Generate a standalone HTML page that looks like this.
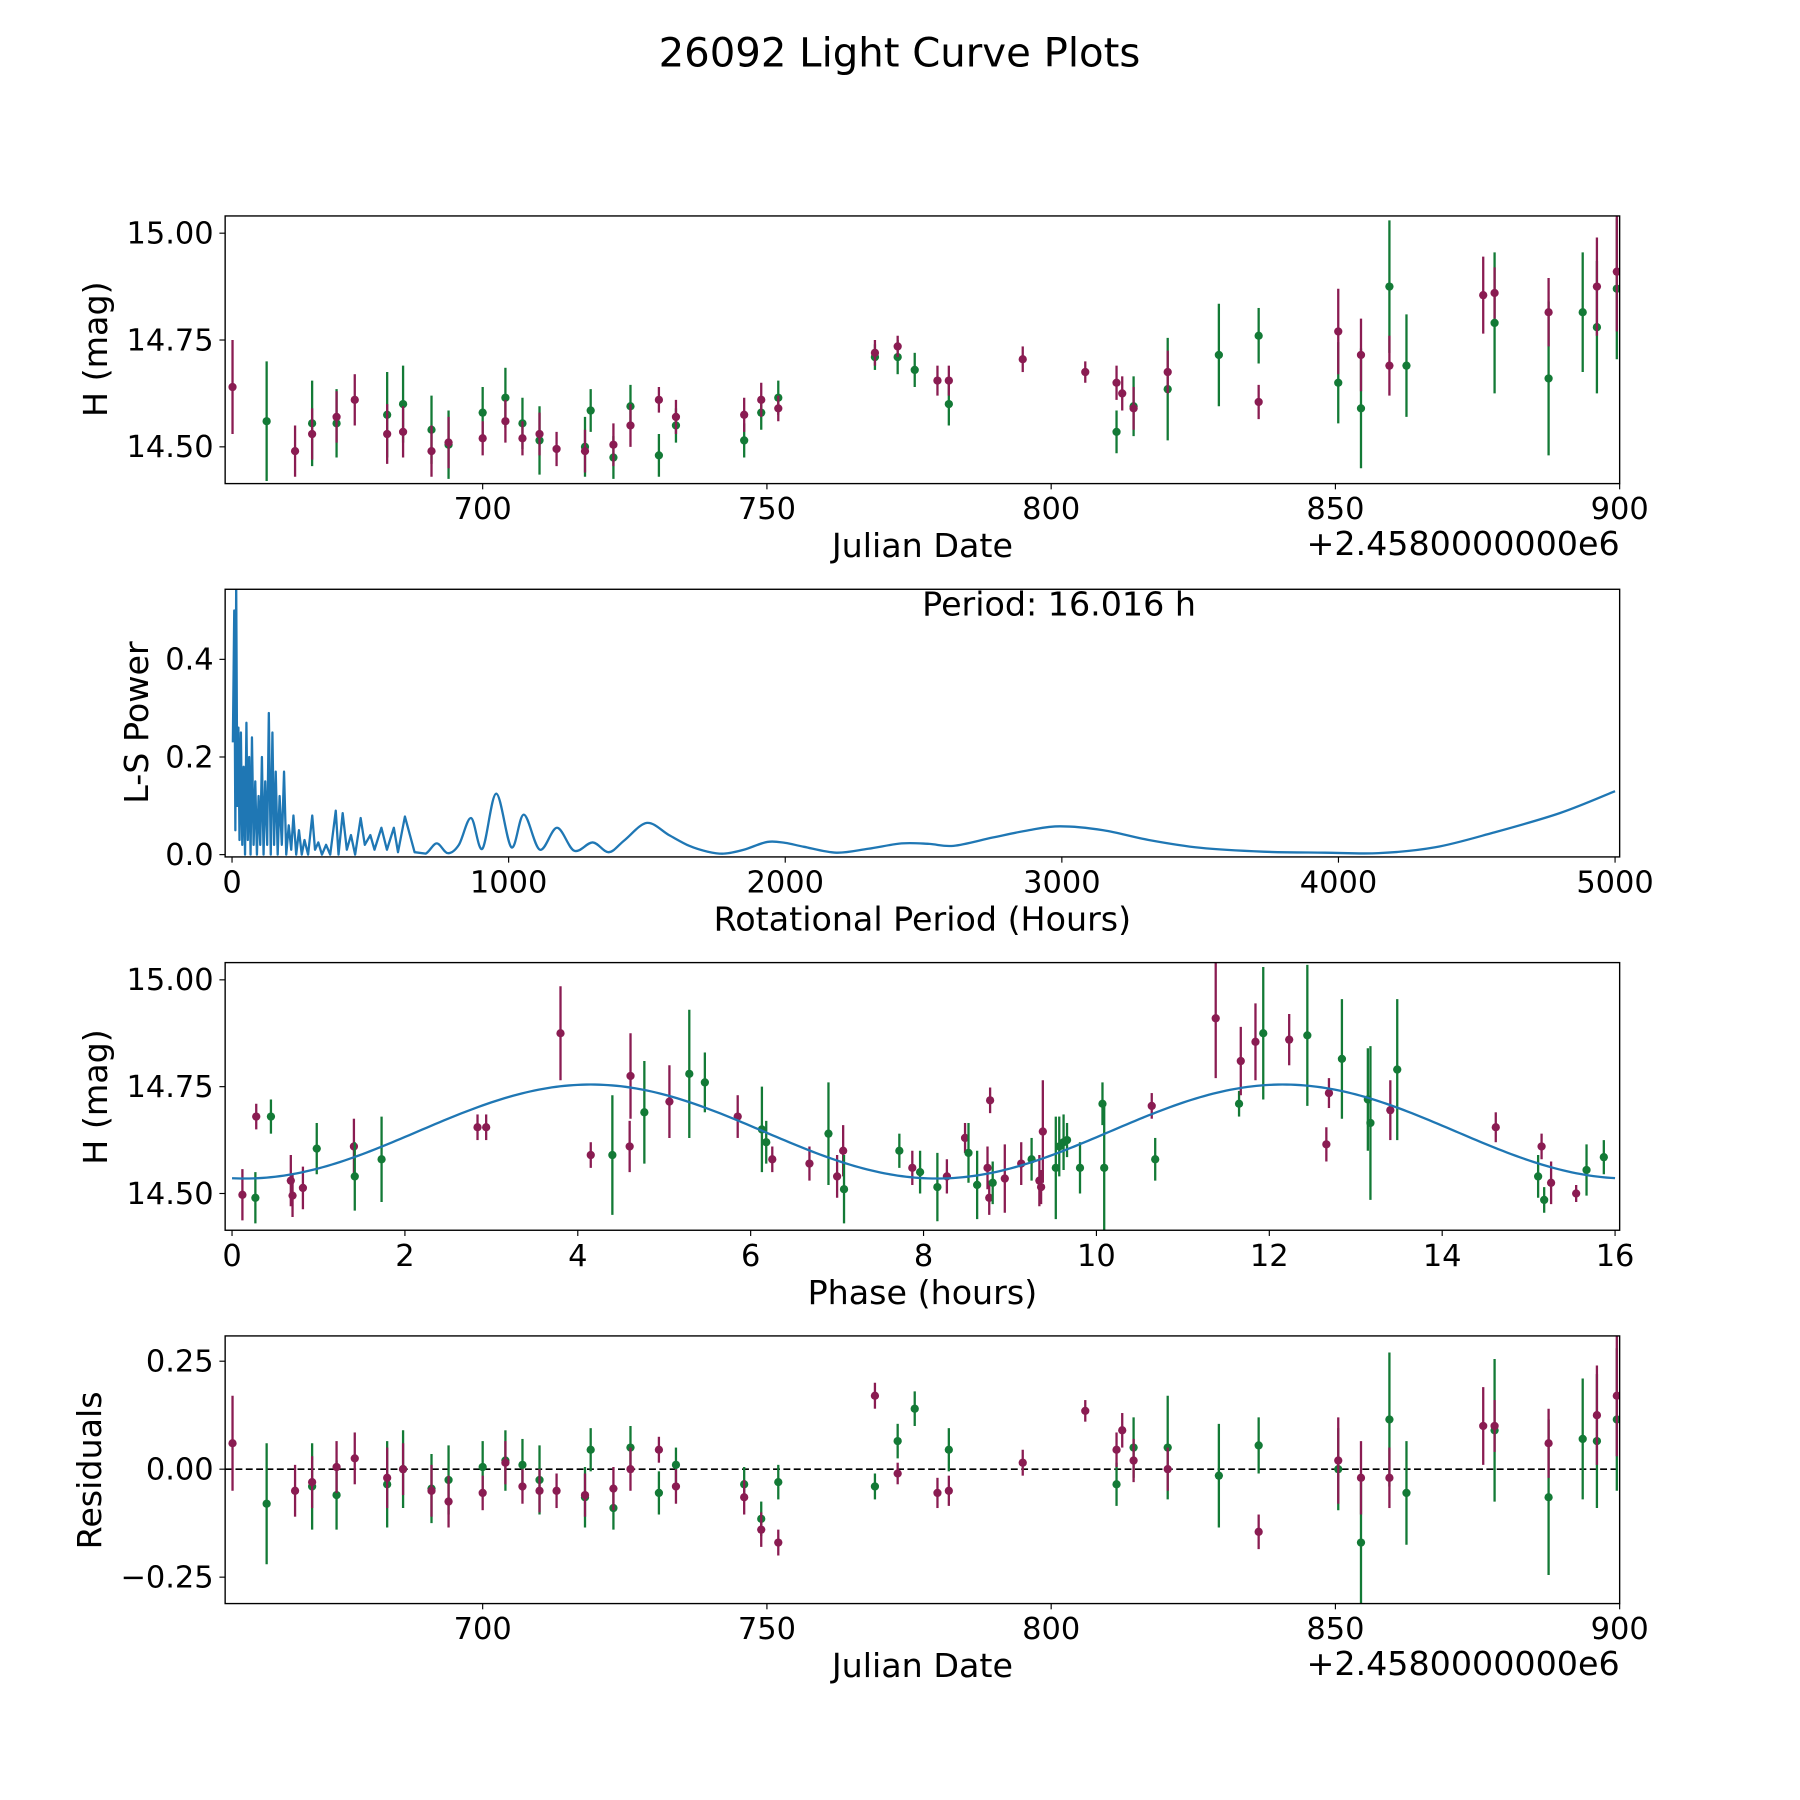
<!DOCTYPE html>
<html><head><meta charset="utf-8"><style>
html,body{margin:0;padding:0;background:#fff}
svg{display:block}
text{font-family:"DejaVu Sans","Liberation Sans",sans-serif;fill:#000}
</style></head><body>
<svg id="fig" xmlns="http://www.w3.org/2000/svg" width="1800" height="1800" viewBox="0 0 1567 1567">
<text x="783" y="58" font-size="35" text-anchor="middle">26092 Light Curve Plots</text>
</svg>
<script>
// ---- Light curve data (Julian date offset, H mag, error, filter) ----
const jd = [656,662,667,670,670,674.3,674.3,677.5,683.2,683.2,686,686,691,691,694,694,700,700,704,704,707,707,710,710,713,718,718,719,723,723,726,726,731,731,734,734,746,746,749,749,752,752,769,769,773,773,776,780,782,782,795,806,811.5,811.5,812.5,814.5,814.5,820.5,820.5,829.5,836.5,836.5,850.5,850.5,854.5,854.5,859.5,859.5,862.5,876,878,878,887.5,887.5,893.5,896,896,899.5,899.5];
const mag = [14.64,14.56,14.49,14.555,14.53,14.555,14.57,14.61,14.575,14.53,14.6,14.535,14.54,14.49,14.505,14.51,14.58,14.52,14.615,14.56,14.555,14.52,14.515,14.53,14.495,14.5,14.49,14.585,14.475,14.505,14.595,14.55,14.48,14.61,14.55,14.57,14.515,14.575,14.58,14.61,14.615,14.59,14.71,14.72,14.71,14.735,14.68,14.655,14.6,14.655,14.705,14.675,14.535,14.65,14.625,14.595,14.59,14.635,14.675,14.715,14.76,14.605,14.65,14.77,14.59,14.715,14.875,14.69,14.69,14.855,14.79,14.86,14.66,14.815,14.815,14.78,14.875,14.87,14.91];
const magErr = [0.11,0.14,0.06,0.1,0.06,0.08,0.06,0.06,0.1,0.07,0.09,0.06,0.08,0.06,0.08,0.06,0.06,0.04,0.07,0.05,0.06,0.04,0.08,0.05,0.04,0.07,0.05,0.05,0.05,0.05,0.05,0.05,0.05,0.03,0.04,0.04,0.04,0.04,0.04,0.04,0.04,0.03,0.03,0.03,0.04,0.025,0.04,0.035,0.05,0.035,0.03,0.025,0.05,0.04,0.04,0.07,0.05,0.12,0.05,0.12,0.065,0.04,0.095,0.1,0.14,0.085,0.155,0.07,0.12,0.09,0.165,0.06,0.18,0.08,0.14,0.155,0.115,0.165,0.14];
const band = ["m","g","m","g","m","g","m","m","g","m","g","m","g","m","g","m","g","m","g","m","g","m","g","m","m","g","m","g","g","m","g","m","g","m","g","m","g","m","g","m","g","m","g","m","g","m","g","m","g","m","m","m","g","m","m","g","m","g","m","g","g","m","g","m","g","m","g","m","g","m","g","m","g","m","g","g","m","g","m"];
const resid = [0.06,-0.08,-0.05,-0.04,-0.03,-0.06,0.005,0.025,-0.035,-0.02,0,0,-0.045,-0.05,-0.025,-0.075,0.005,-0.055,0.02,0.015,0.01,-0.04,-0.025,-0.05,-0.05,-0.065,-0.06,0.045,-0.09,-0.045,0.05,0,-0.055,0.045,0.01,-0.04,-0.035,-0.065,-0.115,-0.14,-0.03,-0.17,-0.04,0.17,0.065,-0.01,0.14,-0.055,0.045,-0.05,0.015,0.135,-0.035,0.045,0.09,0.05,0.02,0.05,0,-0.015,0.055,-0.145,0,0.02,-0.17,-0.02,0.115,-0.02,-0.055,0.1,0.09,0.1,-0.065,0.06,0.07,0.065,0.125,0.115,0.17];
// ---- Phase-folded data ----
const phase = [0.12,0.28,0.27,0.45,0.68,0.7,0.82,0.98,1.41,1.42,1.73,2.84,2.94,3.8,4.15,4.4,4.61,4.6,4.77,5.06,5.29,5.47,5.85,6.13,6.18,6.25,6.68,6.9,7.0,7.07,7.08,7.72,7.87,7.96,8.16,8.27,8.48,8.52,8.62,8.74,8.76,8.77,8.8,8.94,9.13,9.25,9.34,9.36,9.38,9.53,9.57,9.62,9.66,9.81,10.07,10.09,10.64,10.68,11.38,11.65,11.67,11.84,11.93,12.23,12.44,12.69,12.84,12.66,13.14,13.17,13.4,13.48,14.62,15.11,15.15,15.18,15.26,15.55,15.67,15.87];
const phMag = [14.497,14.68,14.49,14.68,14.53,14.495,14.513,14.605,14.61,14.54,14.58,14.655,14.655,14.875,14.59,14.59,14.775,14.61,14.69,14.715,14.78,14.76,14.68,14.65,14.62,14.58,14.57,14.64,14.54,14.6,14.51,14.6,14.56,14.55,14.515,14.54,14.63,14.595,14.52,14.56,14.49,14.718,14.525,14.535,14.57,14.58,14.53,14.515,14.645,14.56,14.61,14.62,14.625,14.56,14.71,14.56,14.705,14.58,14.91,14.71,14.81,14.855,14.875,14.86,14.87,14.735,14.815,14.615,14.72,14.665,14.695,14.79,14.655,14.54,14.61,14.485,14.525,14.5,14.555,14.585];
const phErr = [0.06,0.03,0.06,0.04,0.06,0.05,0.05,0.06,0.065,0.08,0.1,0.03,0.03,0.11,0.03,0.14,0.1,0.06,0.12,0.085,0.15,0.07,0.05,0.1,0.05,0.03,0.04,0.12,0.05,0.06,0.08,0.04,0.04,0.05,0.08,0.04,0.035,0.07,0.08,0.05,0.04,0.03,0.05,0.08,0.05,0.05,0.06,0.04,0.12,0.12,0.07,0.065,0.04,0.06,0.05,0.15,0.03,0.05,0.14,0.03,0.08,0.09,0.155,0.06,0.165,0.035,0.14,0.04,0.12,0.18,0.07,0.165,0.035,0.05,0.03,0.03,0.05,0.02,0.06,0.04];
const phBand = ["m","m","g","g","m","m","m","g","m","g","g","m","m","m","m","g","m","m","g","m","g","g","m","g","g","m","m","g","m","m","g","g","m","g","g","m","m","g","g","m","m","m","g","m","m","g","m","m","m","g","g","g","g","g","g","g","m","g","m","g","m","m","g","m","g","m","g","m","g","g","m","g","m","g","m","g","m","m","g","g"];
// ---- Model fit ----
const fitMean = 14.645, fitAmp = 0.11, fitPeak = 4.15, fitPeriodHalf = 8.008;
// ---- Periodogram ----
const lsPeriod = [3,8,12,15,19,23,27,32,37,42,47,52,57,62,67,72,78,84,90,96,102,108,114,120,127,133,140,146,152,158,165,172,180,188,196,205,214,222,232,242,252,262,275,290,300,312,325,340,355,375,385,400,415,430,445,465,480,500,515,540,560,585,600,625,660,700,740,780,820,864,905,955,1010,1055,1113,1175,1237,1304,1362,1420,1500,1580,1653,1720,1778,1850,1935,2000,2068,2185,2300,2421,2520,2608,2750,2880,2994,3150,3314,3500,3729,3950,4145,4350,4560,4800,5000];
const lsPower = [0.23,0.5,0.05,0.56,0.1,0.26,0.03,0.25,0.02,0.18,0,0.27,0.03,0.2,0,0.24,0.02,0.15,0,0.12,0.02,0.2,0,0.15,0.02,0.29,0,0.25,0.02,0.17,0,0.12,0.02,0.17,0,0.06,0.01,0.08,0,0.05,0,0.03,0,0.08,0.01,0.025,0,0.02,0,0.09,0,0.085,0.01,0.04,0,0.075,0.02,0.04,0.01,0.055,0.01,0.055,0.005,0.078,0.005,0.002,0.023,0.003,0.02,0.075,0.012,0.125,0.015,0.082,0.01,0.055,0.008,0.025,0.005,0.03,0.065,0.04,0.018,0.006,0.002,0.01,0.026,0.024,0.016,0.004,0.012,0.023,0.022,0.018,0.035,0.05,0.058,0.05,0.03,0.014,0.006,0.004,0.003,0.015,0.045,0.085,0.13];

const NS = "http://www.w3.org/2000/svg";
const fig = document.getElementById('fig');
const COL = {m:"#8a1c52", g:"#137a36"};
function mk(tag, attrs, parent){const e=document.createElementNS(NS,tag);for(const k in attrs)e.setAttribute(k,attrs[k]);(parent||fig).appendChild(e);return e;}
function lin(d0,d1,r0,r1){return v=>r0+(v-d0)*(r1-r0)/(d1-d0);}

function axes(name,y0,y1,xs,ys,xticks,yticks,xfmt,yfmt){
  const g=mk('g',{});
  
  
  const cp=mk('clipPath',{id:'clip-'+name},g);
  mk('rect',{x:196,y:y0,width:1214,height:y1-y0},cp);
  const plot=mk('g',{'clip-path':'url(#clip-'+name+')'},g);
  xticks.forEach(t=>{const x=xs(t);
    const tk=mk('line',{x1:x,x2:x,y1:y1,y2:y1+5,stroke:'#000','stroke-width':1},g);
    
    
    const tl=mk('text',{x:x,y:y1+31,'font-size':26.5,'text-anchor':'middle'},g);tl.textContent=xfmt(t);
    
    });
  yticks.forEach(t=>{const y=ys(t);
    const tk=mk('line',{x1:191,x2:196,y1:y,y2:y,stroke:'#000','stroke-width':1},g);
    
    
    const tl=mk('text',{x:186,y:y+9,'font-size':26.5,'text-anchor':'end'},g);tl.textContent=yfmt(t);
    
    });
  return {g,plot,frame:()=>{const r=mk('rect',{x:196,y:y0,width:1214,height:y1-y0,fill:'none',stroke:'#000','stroke-width':1.2},g);
    
    }};
}
function label(txt,x,y,rot,name,anchor){
  const t=mk('text',{x:x,y:y,'font-size':29,'text-anchor':anchor||'middle',transform:rot?`rotate(-90 ${x} ${y})`:''});
  t.textContent=txt;
  
  
}
function errPoint(plot,x,y,yl,yh,c){
  const l=mk('line',{x1:x,x2:x,y1:yl,y2:yh,stroke:c,'stroke-width':2},plot);
  
  
  const p=mk('circle',{cx:x,cy:y,r:3.6,fill:c},plot);
  
  
}
const jdTicks=[700,750,800,850,900];
// Panel 1
{const xs=lin(654.7,900,196,1410), ys=lin(15.0,14.5,203,389);
 const a=axes('light-curve-axes',188,421,xs,ys,jdTicks,[14.5,14.75,15.0],v=>v,v=>v.toFixed(2));
 jd.forEach((d,i)=>errPoint(a.plot,xs(d),ys(mag[i]),ys(mag[i]-magErr[i]),ys(mag[i]+magErr[i]),COL[band[i]]));
 a.frame();
 label('Julian Date',803,485,false,'x-axis-title-julian');
 label('+2.4580000000e6',1410,483,false,'x-offset-text','end');
 label('H (mag)',93,304,true,'y-axis-title-mag');}
// Panel 2
{const xs=lin(0,5000,202,1406), ys=lin(0,0.4,744,574);
 const a=axes('periodogram-axes',513,746,xs,ys,[0,1000,2000,3000,4000,5000],[0,0.2,0.4],v=>v,v=>v.toFixed(1));
 const P=lsPeriod.map((p,i)=>[xs(p),ys(lsPower[i])]);
 let d='M'+P[0][0]+','+P[0][1];
 for(let i=0;i<P.length-1;i++){const p0=P[Math.max(0,i-1)],p1=P[i],p2=P[i+1],p3=P[Math.min(P.length-1,i+2)];
   if(lsPeriod[i]<700){d+=' L'+p2[0]+','+p2[1];continue;}
   const c1=[p1[0]+(p2[0]-p0[0])/6,p1[1]+(p2[1]-p0[1])/6],c2=[p2[0]-(p3[0]-p1[0])/6,p2[1]-(p3[1]-p1[1])/6];
   d+=` C${c1[0]},${c1[1]} ${c2[0]},${c2[1]} ${p2[0]},${p2[1]}`;}
 const l=mk('path',{d:d,fill:'none',stroke:'#1f77b4','stroke-width':2,'stroke-linejoin':'round'},a.plot);
 
 
 a.frame();
 label('Period: 16.016 h',922,536,false,'period-annotation');
 label('Rotational Period (Hours)',803,810,false,'x-axis-title-period');
 label('L-S Power',129,629,true,'y-axis-title-power');}
// Panel 3
{const xs=lin(0,16,202,1406), ys=lin(15.0,14.5,853,1039);
 const a=axes('phase-axes',838,1071,xs,ys,[0,2,4,6,8,10,12,14,16],[14.5,14.75,15.0],v=>v,v=>v.toFixed(2));
 let d='';for(let k=0;k<=320;k++){const t=k*16/320;const m=fitMean+fitAmp*Math.cos(2*Math.PI*(t-fitPeak)/fitPeriodHalf);d+=(k?' L':'M')+xs(t)+','+ys(m);}
 phase.forEach((p,i)=>errPoint(a.plot,xs(p),ys(phMag[i]),ys(phMag[i]-phErr[i]),ys(phMag[i]+phErr[i]),COL[phBand[i]]));
 const l=mk('path',{d:d,fill:'none',stroke:'#1f77b4','stroke-width':2},a.plot);
 
 
 a.frame();
 label('Phase (hours)',803,1135,false,'x-axis-title-phase');
 label('H (mag)',93,955,true,'y-axis-title-phase-mag');}
// Panel 4
{const xs=lin(654.7,900,196,1410), ys=lin(0,0.25,1279,1185);
 const a=axes('residuals-axes',1163,1396,xs,ys,jdTicks,[-0.25,0,0.25],v=>v,v=>(v<0?'\u22120.25':v.toFixed(2)));
 const z=mk('line',{x1:196,x2:1410,y1:ys(0),y2:ys(0),stroke:'#000','stroke-width':1.5,'stroke-dasharray':'6,3'},a.plot);
 
 
 jd.forEach((d,i)=>errPoint(a.plot,xs(d),ys(resid[i]),ys(resid[i]-magErr[i]),ys(resid[i]+magErr[i]),COL[band[i]]));
 a.frame();
 label('Julian Date',803,1460,false,'x-axis-title-julian-resid');
 label('+2.4580000000e6',1410,1458,false,'x-offset-text-resid','end');
 label('Residuals',88,1280,true,'y-axis-title-residuals');}
</script>
</body></html>
